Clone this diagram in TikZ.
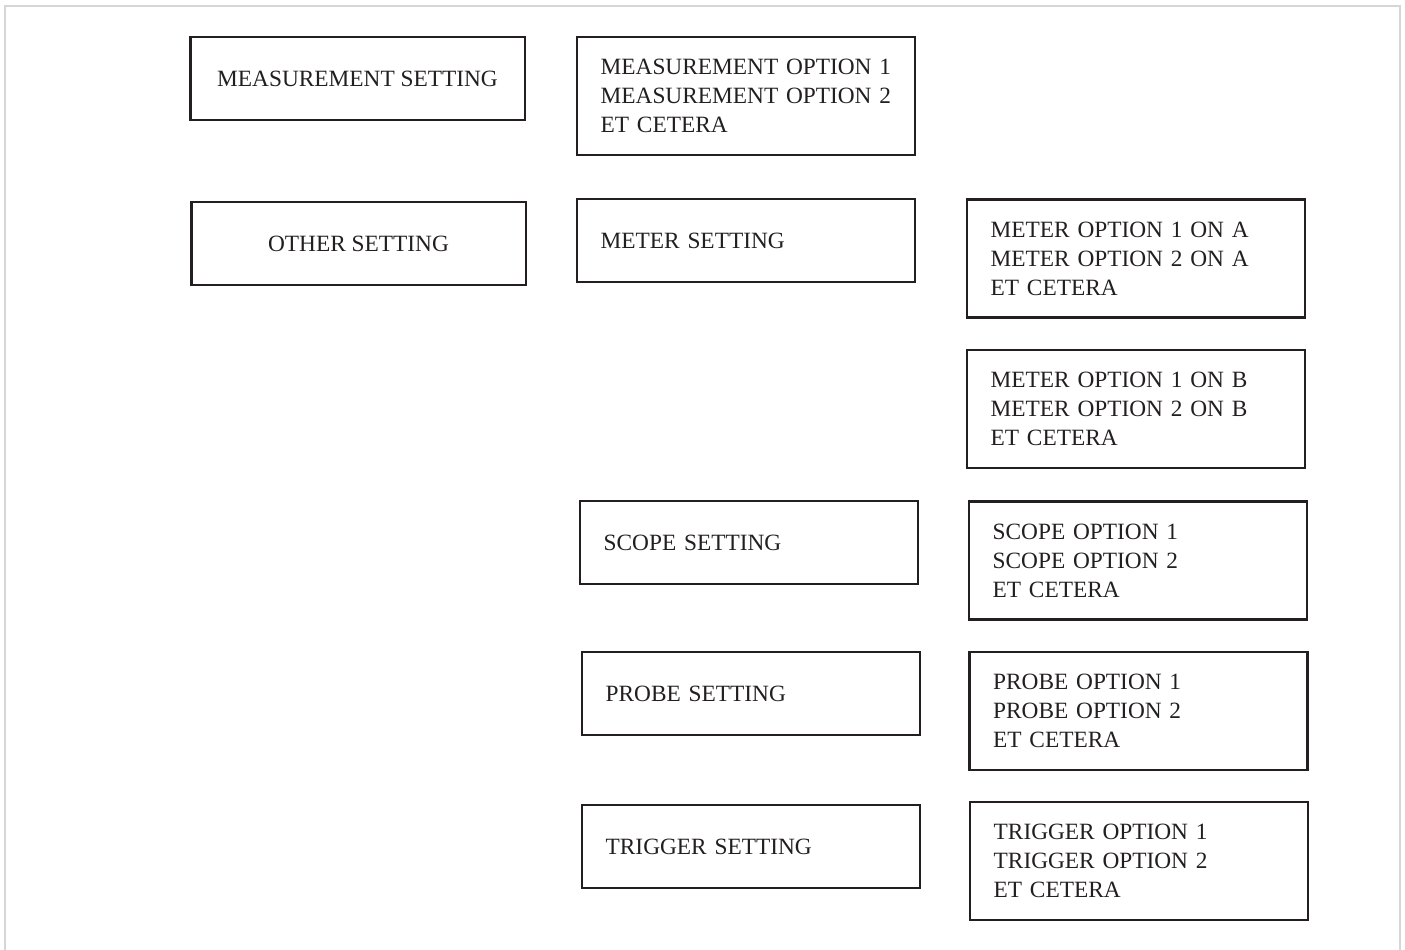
\documentclass[tikz,border=0pt]{standalone}
\usepackage{fontspec}
\setmainfont{Liberation Serif}
\usetikzlibrary{positioning}

\definecolor{inkgray}{HTML}{231F20}
\definecolor{framegray}{HTML}{D6D6D6}

\tikzset{
    panel/.style={draw=inkgray, line width=2pt, text=inkgray, font=\fontsize{17.5}{21.75}\selectfont},
    mainbox/.style={panel, minimum width=251pt, minimum height=62.25pt, align=center},
    setbox/.style={panel, text width=218pt, inner xsep=17.75pt, minimum height=62.25pt, align=left},
    optbox/.style={panel, text width=218pt, inner xsep=17.75pt, minimum height=88.5pt, align=left}
}

\begin{document}
\begin{tikzpicture}[x=0.75pt, y=-0.75pt]
        \useasboundingbox (0,0) rectangle (1405,949);
        \draw[framegray, line width=1.5pt] (5,1000) -- (5,6) -- (1400,6) -- (1400,1000);

        \node[mainbox]  (measset)   at (357.5,78.5)  {MEASUREMENT SETTING};
        \node[optbox]   (measopt)   at (746,96)      {MEASUREMENT OPTION 1\\MEASUREMENT OPTION 2\\ET CETERA};

        \node[mainbox]  (otherset)  at (358.5,243.5) {OTHER SETTING};
        \node[setbox]   (meterset)  at (746,240.5)   {METER SETTING};
        \node[optbox]   (meteroptA) at (1136,258.5)  {METER OPTION 1 ON A\\METER OPTION 2 ON A\\ET CETERA};
        \node[optbox]   (meteroptB) at (1136,409)    {METER OPTION 1 ON B\\METER OPTION 2 ON B\\ET CETERA};

        \node[setbox]   (scopeset)  at (749,542.5)   {SCOPE SETTING};
        \node[optbox]   (scopeopt)  at (1138,560.5)  {SCOPE OPTION 1\\SCOPE OPTION 2\\ET CETERA};

        \node[setbox]   (probeset)  at (751,693.5)   {PROBE SETTING};
        \node[optbox]   (probeopt)  at (1138.5,711)  {PROBE OPTION 1\\PROBE OPTION 2\\ET CETERA};

        \node[setbox]   (trigset)   at (751,846.5)   {TRIGGER SETTING};
        \node[optbox]   (trigopt)   at (1139,861)    {TRIGGER OPTION 1\\TRIGGER OPTION 2\\ET CETERA};
      \end{tikzpicture}
\end{document}
